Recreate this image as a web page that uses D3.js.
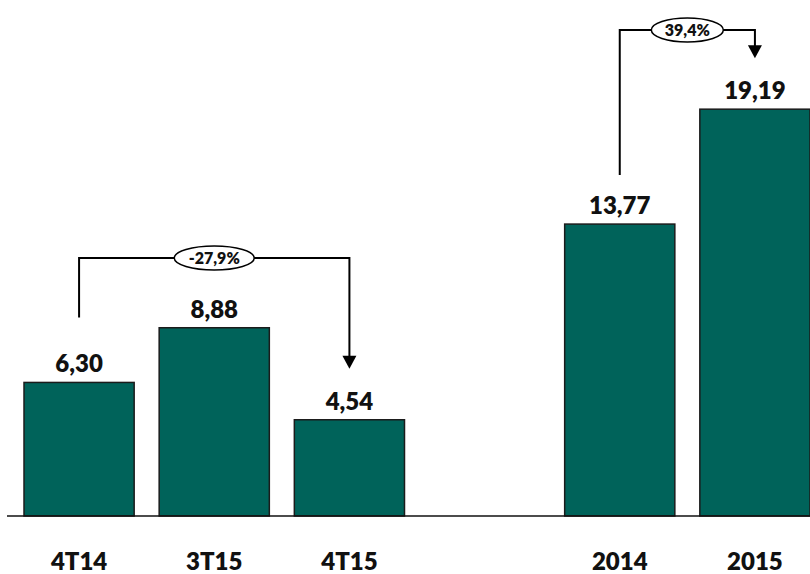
<!DOCTYPE html>
<html>
<head>
<meta charset="utf-8">
<script src="https://cdn.jsdelivr.net/npm/d3@7"></script>
<style>
    body { margin: 0; background: #fff; }
    .label { font-family: Lato, "Open Sans", sans-serif; font-weight: 800; fill: #111; }
</style>
</head>
<body>
<div id="chart"></div>
<script>

// quarterly figures followed by annual totals
let quarterLabels = ["4T14", "3T15", "4T15"];
let quarterValues = [6.30, 8.88, 4.54];
let yearLabels = ["2014", "2015"];
let yearValues = [13.77, 19.19];

// growth brackets: [from, to] and the rate printed on them
let growthPairs = [["4T14", "4T15"], ["2014", "2015"]];
let growthLabels = ["-27,9%", "39,4%"];

let fmt = v => v.toFixed(2).replace(".", ",");

let width = 810, height = 574;
let baseY = 516;

let bars = quarterLabels.map((c, i) => ({cat: c, value: quarterValues[i]}))
    .concat(yearLabels.map((c, i) => ({cat: c, value: yearValues[i]})));

// an empty slot separates the two groups
let slots = [...quarterLabels, "_gap", ...yearLabels];

let svg = d3.select("#chart").append("svg")
    .attr("width", width)
    .attr("height", height);

let x = d3.scaleBand()
    .domain(slots)
    .range([24, 810])
    .paddingInner(0.185)
    .paddingOuter(0);

let y = d3.scaleLinear()
    .domain([0, 20])
    .range([baseY, baseY - 424]);

// bars
svg.selectAll("rect.bar")
    .data(bars)
    .enter()
    .append("rect")
    .attr("class", "bar")
    .attr("x", d => x(d.cat))
    .attr("y", d => y(d.value))
    .attr("width", x.bandwidth())
    .attr("height", d => baseY - y(d.value))
    .attr("fill", "#00635a")
    .attr("stroke", "#1b1b1b")
    .attr("stroke-width", 1.5);

// value labels
svg.selectAll("text.value")
    .data(bars)
    .enter()
    .append("text")
    .attr("class", "label value")
    .attr("x", d => x(d.cat) + x.bandwidth() / 2)
    .attr("y", d => y(d.value) - 10)
    .attr("text-anchor", "middle")
    .attr("font-size", 24)
    .text(d => fmt(d.value));

// baseline
svg.append("line")
    .attr("x1", 7)
    .attr("x2", width)
    .attr("y1", baseY)
    .attr("y2", baseY)
    .attr("stroke", "#111")
    .attr("stroke-width", 1.5);

// category labels
let xAxis = d3.axisBottom(x).tickSize(0).tickPadding(0);
let axisG = svg.append("g")
    .attr("transform", `translate(0, ${baseY})`)
    .call(xAxis);
axisG.select(".domain").remove();
axisG.selectAll(".tick")
    .filter(d => d === "_gap")
    .remove();
axisG.selectAll(".tick text")
    .attr("class", "label")
    .attr("y", 54)
    .attr("dy", 0)
    .attr("font-size", 24)
    .attr("font-family", null);

// growth brackets
let bracketLayout = [{top: 258, lead: 65}, {top: 30, lead: 49}];

growthPairs.forEach((pair, i) => {
    let a = bars.find(d => d.cat === pair[0]);
    let b = bars.find(d => d.cat === pair[1]);
    let x1 = x(a.cat) + x.bandwidth() / 2;
    let x2 = x(b.cat) + x.bandwidth() / 2;
    let top = bracketLayout[i].top;
    let y1 = y(a.value) - bracketLayout[i].lead;
    let tip = y(b.value) - 51;
    let g = svg.append("g");

    g.append("path")
        .attr("d", `M${x1},${y1} V${top} H${x2} V${tip - 12}`)
        .attr("fill", "none")
        .attr("stroke", "#000")
        .attr("stroke-width", 2);

    g.append("path")
        .attr("d", `M${x2 - 7},${tip - 13} L${x2 + 7},${tip - 13} L${x2},${tip} Z`)
        .attr("fill", "#000");

    let cx = (x1 + x2) / 2;
    let rx = growthLabels[i].length > 5 ? 40 : 36;
    g.append("ellipse")
        .attr("cx", cx)
        .attr("cy", top)
        .attr("rx", rx)
        .attr("ry", 12)
        .attr("fill", "#fff")
        .attr("stroke", "#000")
        .attr("stroke-width", 1.5);

    g.append("text")
        .attr("class", "label")
        .attr("x", cx)
        .attr("y", top)
        .attr("dy", "0.36em")
        .attr("text-anchor", "middle")
        .attr("font-size", 16)
        .text(growthLabels[i]);
});

</script>
</body>
</html>
